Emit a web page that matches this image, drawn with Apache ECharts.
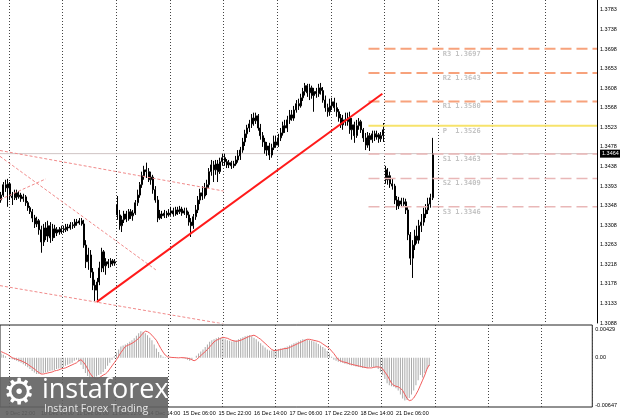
<!DOCTYPE html>
<html><head><meta charset="utf-8">
<script src="https://cdn.jsdelivr.net/npm/echarts@6/dist/echarts.min.js"></script>
<style>html,body{margin:0;padding:0;background:#fff}#c{width:620px;height:418px}</style>
</head><body><div id="c"></div>
<script>
// ---- categories (H1 bars) ----
const days = ['9 Dec','10 Dec','11 Dec','14 Dec','15 Dec','16 Dec','17 Dec','18 Dec','21 Dec'];
const firstHour = 20, lastHour = 21, shiftSlots = 73;
// ---- price axis tick labels (bottom to top) ----
const priceTicks = ['1.3088','1.3133','1.3178','1.3218','1.3263','1.3308','1.3348','1.3393','1.3438','1.3478','1.3523','1.3568','1.3608','1.3653','1.3698','1.3738','1.3783'];
const macdTicks = {max:'0.00429', zero:'0.00', min:'-0.00647'};
// ---- OHLC ----
const open = [1.3361,1.3372,1.3395,1.3388,1.3397,1.3370,1.3366,1.3377,1.3368,1.3372,
1.3364,1.3368,1.3355,1.3344,1.3335,1.3321,1.3308,1.3315,1.3295,1.3268,
1.3299,1.3281,1.3304,1.3277,1.3297,1.3288,1.3295,1.3290,1.3297,1.3295,
1.3301,1.3299,1.3306,1.3304,1.3312,1.3310,1.3315,1.3308,1.3261,1.3224,
1.3239,1.3201,1.3172,1.3161,1.3179,1.3210,1.3246,1.3215,1.3224,1.3219,
1.3226,1.3221,1.3350,1.3328,1.3304,1.3317,1.3330,1.3319,1.3335,1.3326,
1.3332,1.3355,1.3372,1.3395,1.3415,1.3428,1.3424,1.3406,1.3412,1.3384,
1.3361,1.3321,1.3330,1.3326,1.3332,1.3328,1.3332,1.3337,1.3330,1.3339,
1.3335,1.3341,1.3332,1.3337,1.3328,1.3312,1.3304,1.3324,1.3339,1.3361,
1.3377,1.3370,1.3388,1.3395,1.3424,1.3439,1.3428,1.3441,1.3424,1.3446,
1.3455,1.3446,1.3439,1.3444,1.3437,1.3441,1.3450,1.3459,1.3472,1.3490,
1.3508,1.3521,1.3530,1.3543,1.3537,1.3548,1.3521,1.3504,1.3490,1.3472,
1.3481,1.3461,1.3477,1.3490,1.3483,1.3499,1.3510,1.3526,1.3521,1.3539,
1.3550,1.3543,1.3561,1.3575,1.3570,1.3588,1.3602,1.3615,1.3599,1.3610,
1.3593,1.3602,1.3597,1.3610,1.3604,1.3583,1.3566,1.3557,1.3570,1.3579,
1.3566,1.3557,1.3543,1.3528,1.3539,1.3535,1.3543,1.3517,1.3528,1.3504,
1.3526,1.3535,1.3517,1.3499,1.3483,1.3504,1.3495,1.3508,1.3501,1.3506,
1.3497,1.3504,1.3428,1.3406,1.3415,1.3397,1.3392,1.3361,1.3348,1.3359,
1.3352,1.3357,1.3339,1.3284,1.3232,1.3261,1.3281,1.3272,1.3304,1.3312,
1.3330,1.3339,1.3352,1.3366];
const close = [1.3372,1.3395,1.3388,1.3397,1.3370,1.3366,1.3377,1.3368,1.3372,1.3364,
1.3368,1.3355,1.3344,1.3335,1.3321,1.3308,1.3315,1.3295,1.3268,1.3299,
1.3281,1.3304,1.3277,1.3297,1.3288,1.3295,1.3290,1.3297,1.3295,1.3301,
1.3299,1.3306,1.3304,1.3312,1.3310,1.3315,1.3308,1.3261,1.3224,1.3239,
1.3201,1.3172,1.3161,1.3179,1.3210,1.3246,1.3215,1.3224,1.3219,1.3226,
1.3221,1.3224,1.3328,1.3304,1.3317,1.3330,1.3319,1.3335,1.3326,1.3332,
1.3355,1.3372,1.3395,1.3415,1.3428,1.3424,1.3406,1.3412,1.3384,1.3361,
1.3321,1.3330,1.3326,1.3332,1.3328,1.3332,1.3337,1.3330,1.3339,1.3335,
1.3341,1.3332,1.3337,1.3328,1.3312,1.3304,1.3324,1.3339,1.3361,1.3377,
1.3370,1.3388,1.3395,1.3424,1.3439,1.3428,1.3441,1.3424,1.3446,1.3455,
1.3446,1.3439,1.3444,1.3437,1.3441,1.3450,1.3459,1.3472,1.3490,1.3508,
1.3521,1.3530,1.3543,1.3537,1.3548,1.3521,1.3504,1.3490,1.3472,1.3481,
1.3461,1.3477,1.3490,1.3483,1.3499,1.3510,1.3526,1.3521,1.3539,1.3550,
1.3543,1.3561,1.3575,1.3570,1.3588,1.3602,1.3615,1.3599,1.3610,1.3593,
1.3602,1.3597,1.3610,1.3604,1.3583,1.3566,1.3557,1.3570,1.3579,1.3566,
1.3557,1.3543,1.3528,1.3539,1.3535,1.3543,1.3517,1.3528,1.3504,1.3526,
1.3535,1.3517,1.3499,1.3483,1.3504,1.3495,1.3508,1.3501,1.3506,1.3497,
1.3504,1.3517,1.3406,1.3415,1.3397,1.3392,1.3361,1.3348,1.3359,1.3352,
1.3357,1.3339,1.3284,1.3232,1.3261,1.3281,1.3272,1.3304,1.3312,1.3330,
1.3339,1.3352,1.3366,1.3464];
const high = [1.3379,1.3401,1.3406,1.3408,1.3401,1.3379,1.3384,1.3384,1.3381,1.3377,
1.3375,1.3372,1.3359,1.3348,1.3341,1.3328,1.3324,1.3319,1.3304,1.3308,
1.3312,1.3315,1.3312,1.3308,1.3306,1.3301,1.3301,1.3304,1.3304,1.3308,
1.3308,1.3312,1.3312,1.3319,1.3319,1.3321,1.3321,1.3317,1.3272,1.3255,
1.3250,1.3210,1.3184,1.3188,1.3224,1.3255,1.3250,1.3232,1.3230,1.3232,
1.3230,1.3230,1.3370,1.3339,1.3326,1.3337,1.3337,1.3341,1.3341,1.3339,
1.3361,1.3384,1.3401,1.3424,1.3437,1.3444,1.3432,1.3424,1.3417,1.3392,
1.3370,1.3339,1.3337,1.3339,1.3337,1.3341,1.3346,1.3344,1.3346,1.3346,
1.3348,1.3346,1.3344,1.3344,1.3335,1.3321,1.3330,1.3350,1.3370,1.3386,
1.3392,1.3399,1.3406,1.3432,1.3450,1.3448,1.3450,1.3450,1.3455,1.3464,
1.3464,1.3452,1.3450,1.3448,1.3448,1.3459,1.3472,1.3479,1.3499,1.3517,
1.3528,1.3539,1.3552,1.3555,1.3555,1.3552,1.3530,1.3512,1.3499,1.3490,
1.3488,1.3486,1.3504,1.3504,1.3508,1.3521,1.3535,1.3539,1.3548,1.3561,
1.3561,1.3570,1.3583,1.3586,1.3597,1.3610,1.3621,1.3619,1.3619,1.3615,
1.3610,1.3610,1.3619,1.3621,1.3612,1.3593,1.3575,1.3586,1.3588,1.3588,
1.3577,1.3563,1.3552,1.3550,1.3555,1.3555,1.3557,1.3543,1.3535,1.3539,
1.3543,1.3539,1.3521,1.3510,1.3512,1.3510,1.3515,1.3515,1.3515,1.3510,
1.3512,1.3532,1.3437,1.3432,1.3424,1.3410,1.3397,1.3370,1.3368,1.3366,
1.3366,1.3364,1.3346,1.3290,1.3272,1.3295,1.3304,1.3317,1.3330,1.3344,
1.3352,1.3366,1.3375,1.3499];
const low = [1.3355,1.3368,1.3379,1.3346,1.3361,1.3350,1.3361,1.3361,1.3364,1.3357,
1.3357,1.3348,1.3337,1.3330,1.3312,1.3299,1.3301,1.3284,1.3244,1.3259,
1.3272,1.3268,1.3266,1.3270,1.3277,1.3281,1.3284,1.3286,1.3288,1.3290,
1.3292,1.3295,1.3297,1.3299,1.3304,1.3306,1.3304,1.3255,1.3210,1.3206,
1.3188,1.3161,1.3137,1.3139,1.3172,1.3201,1.3201,1.3195,1.3210,1.3212,
1.3215,1.3215,1.3317,1.3295,1.3290,1.3310,1.3312,1.3315,1.3319,1.3315,
1.3328,1.3348,1.3366,1.3388,1.3406,1.3410,1.3401,1.3395,1.3375,1.3355,
1.3312,1.3317,1.3319,1.3321,1.3321,1.3324,1.3326,1.3324,1.3326,1.3328,
1.3330,1.3326,1.3328,1.3321,1.3304,1.3279,1.3297,1.3317,1.3332,1.3352,
1.3361,1.3364,1.3372,1.3388,1.3415,1.3401,1.3417,1.3401,1.3419,1.3437,
1.3437,1.3432,1.3432,1.3430,1.3432,1.3437,1.3444,1.3450,1.3466,1.3481,
1.3499,1.3512,1.3521,1.3526,1.3530,1.3515,1.3495,1.3479,1.3464,1.3459,
1.3450,1.3455,1.3472,1.3477,1.3479,1.3492,1.3504,1.3510,1.3512,1.3530,
1.3537,1.3537,1.3555,1.3561,1.3566,1.3581,1.3593,1.3590,1.3583,1.3586,
1.3557,1.3588,1.3590,1.3595,1.3577,1.3557,1.3546,1.3548,1.3561,1.3557,
1.3546,1.3535,1.3521,1.3517,1.3526,1.3526,1.3508,1.3495,1.3488,1.3499,
1.3517,1.3510,1.3490,1.3472,1.3477,1.3470,1.3488,1.3492,1.3495,1.3488,
1.3490,1.3490,1.3397,1.3395,1.3388,1.3384,1.3352,1.3339,1.3341,1.3346,
1.3348,1.3330,1.3272,1.3217,1.3188,1.3250,1.3264,1.3264,1.3290,1.3304,
1.3321,1.3330,1.3344,1.3361];
// ---- MACD (main histogram, signal line) ----
const macdMain = [0.00054,0.00040,0.00020,0,-0.00011,-0.00020,-0.00031,-0.00040,-0.00054,-0.00067,
-0.00087,-0.00107,-0.00127,-0.00147,-0.00174,-0.00194,-0.00214,-0.00214,-0.00208,-0.00201,
-0.00194,-0.00188,-0.00174,-0.00168,-0.00161,-0.00147,-0.00141,-0.00134,-0.00121,-0.00107,
-0.00094,-0.00080,-0.00067,-0.00040,-0.00027,-0.00054,-0.00094,-0.00147,-0.00201,-0.00241,
-0.00275,-0.00281,-0.00268,-0.00248,-0.00228,-0.00214,-0.00188,-0.00147,-0.00107,-0.00067,
-0.00027,0.00020,0.00067,0.00107,0.00147,0.00161,0.00174,0.00188,0.00208,0.00228,
0.00255,0.00288,0.00322,0.00348,0.00342,0.00322,0.00295,0.00261,0.00228,0.00174,
0.00121,0.00074,0.00034,0.00013,0.00007,0.00003,0.00002,0,-0.00002,0.00001,
0,-0.00002,-0.00007,-0.00013,-0.00027,-0.00040,-0.00027,0,0.00027,0.00054,
0.00080,0.00107,0.00141,0.00174,0.00208,0.00228,0.00241,0.00255,0.00268,0.00261,
0.00255,0.00241,0.00228,0.00221,0.00214,0.00221,0.00228,0.00241,0.00255,0.00268,
0.00281,0.00288,0.00295,0.00281,0.00261,0.00241,0.00214,0.00188,0.00161,0.00134,
0.00107,0.00094,0.00094,0.00101,0.00107,0.00114,0.00121,0.00121,0.00134,0.00147,
0.00161,0.00174,0.00188,0.00201,0.00214,0.00228,0.00241,0.00241,0.00235,0.00228,
0.00221,0.00214,0.00201,0.00181,0.00161,0.00141,0.00121,0.00087,0.00054,0.00013,
-0.00027,-0.00040,-0.00054,-0.00060,-0.00067,-0.00080,-0.00087,-0.00094,-0.00101,-0.00107,
-0.00114,-0.00121,-0.00127,-0.00134,-0.00134,-0.00134,-0.00127,-0.00121,-0.00121,-0.00127,
-0.00147,-0.00188,-0.00228,-0.00281,-0.00335,-0.00362,-0.00375,-0.00382,-0.00402,-0.00429,
-0.00482,-0.00536,-0.00563,-0.00556,-0.00529,-0.00482,-0.00429,-0.00362,-0.00295,-0.00228,
-0.00260,-0.00200,-0.00150,-0.00110];
const macdSignal = [0.00080,0.00067,0.00054,0.00040,0.00020,0,-0.00011,-0.00020,-0.00031,-0.00040,
-0.00054,-0.00067,-0.00087,-0.00107,-0.00127,-0.00147,-0.00174,-0.00194,-0.00214,-0.00214,
-0.00208,-0.00201,-0.00194,-0.00188,-0.00174,-0.00168,-0.00161,-0.00147,-0.00141,-0.00134,
-0.00121,-0.00107,-0.00094,-0.00080,-0.00067,-0.00040,-0.00027,-0.00054,-0.00094,-0.00147,
-0.00201,-0.00241,-0.00275,-0.00281,-0.00268,-0.00248,-0.00228,-0.00214,-0.00188,-0.00147,
-0.00107,-0.00067,-0.00027,0.00020,0.00067,0.00107,0.00147,0.00161,0.00174,0.00188,
0.00208,0.00228,0.00255,0.00288,0.00322,0.00348,0.00342,0.00322,0.00295,0.00261,
0.00228,0.00174,0.00121,0.00074,0.00034,0.00013,0.00007,0.00003,0.00002,0,
-0.00002,0.00001,0,-0.00002,-0.00007,-0.00013,-0.00027,-0.00040,-0.00027,0,
0.00027,0.00054,0.00080,0.00107,0.00141,0.00174,0.00208,0.00228,0.00241,0.00255,
0.00268,0.00261,0.00255,0.00241,0.00228,0.00221,0.00214,0.00221,0.00228,0.00241,
0.00255,0.00268,0.00281,0.00288,0.00295,0.00281,0.00261,0.00241,0.00214,0.00188,
0.00161,0.00134,0.00107,0.00094,0.00094,0.00101,0.00107,0.00114,0.00121,0.00121,
0.00134,0.00147,0.00161,0.00174,0.00188,0.00201,0.00214,0.00228,0.00241,0.00241,
0.00235,0.00228,0.00221,0.00214,0.00201,0.00181,0.00161,0.00141,0.00121,0.00087,
0.00054,0.00013,-0.00027,-0.00040,-0.00054,-0.00060,-0.00067,-0.00080,-0.00087,-0.00094,
-0.00101,-0.00107,-0.00114,-0.00121,-0.00127,-0.00134,-0.00134,-0.00134,-0.00127,-0.00121,
-0.00121,-0.00127,-0.00147,-0.00188,-0.00228,-0.00281,-0.00335,-0.00362,-0.00375,-0.00382,
-0.00402,-0.00429,-0.00482,-0.00536,-0.00563,-0.00556,-0.00529,-0.00482,-0.00429,-0.00362,
-0.00295,-0.00228,-0.00147,-0.00094];
// ---- levels & drawings (bar index, price) ----
const bid = 1.3464;
const pivots = [['R3',1.3697,'r'],['R2',1.3643,'r'],['R1',1.3580,'r'],['P',1.3526,'p'],['S1',1.3463,'s'],['S2',1.3409,'s'],['S3',1.3346,'s']];
const pivotFrom = 164.3, pivotLabelAt = 197.5;
const trendUp = [[42.8,1.3135],[170.5,1.3597]];
const dottedLines = [
  [[-0.5,1.3471],[99.5,1.3381]],
  [[-0.5,1.3458],[69.2,1.3206]],
  [[-0.5,1.3362],[20.0,1.3408]],
  [[-0.5,1.3171],[99.5,1.3086]]
];

const cats = [];
days.forEach((d,k)=>{const h0=k===0?firstHour:0,h1=k===days.length-1?lastHour:23;
  for(let h=h0;h<=h1;h++)cats.push(d+' '+String(h).padStart(2,'0')+':00');});
const nBars = cats.length;
for(let k=0;k<shiftSlots;k++)cats.push('~'+k);
const nCats = cats.length;
const tickStep = (1.3783-1.3088)/16;
const labelMax = 16.51;
const pMin = 1.3088, pMax = pMin + labelMax*tickStep;

const ohlc = open.map((o,i)=>[o,close[i],low[i],high[i]]);
const font = 'Liberation Sans';
const dayLine = i => (i-4)%24===0;
const gridLine = {show:true, interval:(i)=>dayLine(i), lineStyle:{color:'#444', type:[1,2], width:1}};
const pColor = {r:'#f7a27c', p:'#f7e36b', s:'#e9b7b7'};

const series = [
  {type:'candlestick', xAxisIndex:0, yAxisIndex:0, data:ohlc, barWidth:1.5,
   itemStyle:{color:'#fff', color0:'#000', borderColor:'#000', borderColor0:'#000', borderWidth:1}},
  {type:'line', xAxisIndex:1, yAxisIndex:0, data:[[-0.5,bid],[nCats-0.5,bid]], symbol:'none', silent:true,
   lineStyle:{color:'#cfc4c4', width:1}, z:1,
   endLabel:{show:true, formatter:bid.toFixed(4), backgroundColor:'#000', color:'#fff', fontSize:5.5, fontFamily:font, padding:[1,2,1,2], distance:3}},
  {type:'line', xAxisIndex:1, yAxisIndex:0, data:trendUp, symbol:'none', lineStyle:{color:'#ff1a1a', width:2}, z:5},
];
dottedLines.forEach(l=>series.push({type:'line', xAxisIndex:1, yAxisIndex:0, data:l, symbol:'none', lineStyle:{color:'#f08a8a', width:1, type:[3,2]}, z:4}));
pivots.forEach(p=>series.push({type:'line', xAxisIndex:1, yAxisIndex:0, data:[[pivotFrom,p[1]],[nCats-0.5,p[1]]], symbol:'none',
  lineStyle:p[2]==='p'?{color:pColor.p, width:2, type:'solid'}:{color:pColor[p[2]], width:p[2]==='r'?2:1.5, type:[11,5]}, z:3}));
series.push({type:'scatter', xAxisIndex:1, yAxisIndex:0, symbolSize:0, silent:true,
  data:pivots.map(p=>[pivotLabelAt,p[1],p[0]]),
  label:{show:true, position:'right', distance:0, offset:[0,5], formatter:o=>(o.value[2]+'  ').slice(0,3)+o.value[1].toFixed(4),
    color:'#b4b4b4', fontSize:7, fontWeight:'bold', fontFamily:'DejaVu Sans Mono'}, z:6});
series.push({type:'bar', xAxisIndex:2, yAxisIndex:2, data:macdMain, barWidth:1, itemStyle:{color:'#a9a9a9'}, animation:false});
series.push({type:'line', xAxisIndex:2, yAxisIndex:2, data:macdSignal, symbol:'none', lineStyle:{color:'#f25c5c', width:1}, z:5});

const chart = echarts.init(document.getElementById('c'), null, {renderer:'canvas'});
chart.setOption({
  animation:false, backgroundColor:'#fff',
  grid:[{left:-1, top:0, width:598, height:323},
        {left:-1, top:325, width:598, height:82, show:true, borderColor:'#222', borderWidth:1}],
  xAxis:[
    {type:'category', gridIndex:0, data:cats, boundaryGap:true, axisLine:{show:false}, axisTick:{show:false}, axisLabel:{show:false}, splitLine:gridLine},
    {type:'value', gridIndex:0, min:-0.5, max:nCats-0.5, show:false},
    {type:'category', gridIndex:1, data:cats, boundaryGap:true, axisLine:{show:false}, axisTick:{show:false}, splitLine:gridLine,
     axisLabel:{interval:(i)=>i<nBars && (i-2)%16===0, align:'left', fontSize:5.5, fontFamily:font, color:'#000', margin:3}}
  ],
  yAxis:[
    {type:'value', gridIndex:0, min:pMin, max:pMax, show:false},
    {type:'value', gridIndex:0, position:'right', min:0, max:labelMax, interval:1,
     axisLine:{show:true, lineStyle:{color:'#000'}}, axisTick:{show:false}, splitLine:{show:false},
     axisLabel:{fontSize:5.5, fontFamily:font, color:'#000', margin:3, showMaxLabel:true,
       formatter:v=>{const k=Math.round(v); return Math.abs(v-k)>0.05?'':(priceTicks[k]||'');}}},
    {type:'value', gridIndex:1, position:'right', min:-0.00647, max:0.00429, interval:0.00647,
     axisLine:{show:false}, axisTick:{show:false}, splitLine:{show:false},
     axisLabel:{fontSize:5.5, fontFamily:font, color:'#000', margin:3, showMaxLabel:true, showMinLabel:true,
       formatter:v=>v>0.004?'{t|'+macdTicks.max+'}':(Math.abs(v)<1e-9?macdTicks.zero:(v<-0.006?'{b|'+macdTicks.min+'}':'')),
       rich:{t:{fontSize:5.5, fontFamily:font, color:'#000', padding:[8,0,0,0]}, b:{fontSize:5.5, fontFamily:font, color:'#000', padding:[0,0,4,0]}}}}
  ],
  series:series,
  graphic:[
    {type:'rect', z:100, shape:{x:0, y:377, width:168, height:41}, style:{fill:'rgba(98,98,98,0.9)'}},
    {type:'text', z:101, style:{x:3, y:377, text:'\u2699', fill:'#fff', font:'36px "DejaVu Sans"'}},
    {type:'text', z:101, style:{x:42, y:377, text:'instaforex', fill:'#fff', font:'27px "Open Sans"'}},
    {type:'text', z:101, style:{x:44, y:404, text:'Instant Forex Trading', fill:'#e6e6e6', font:'10.5px "Open Sans"'}}
  ]
});
</script></body></html>
